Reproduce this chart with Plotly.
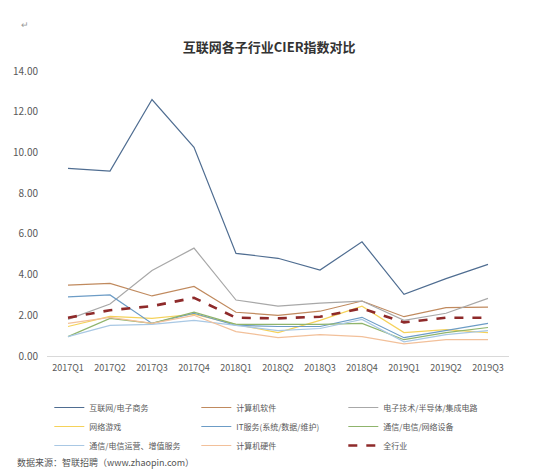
import plotly.graph_objects as go

quarters = ["2017Q1", "2017Q2", "2017Q3", "2017Q4", "2018Q1", "2018Q2",
            "2018Q3", "2018Q4", "2019Q1", "2019Q2", "2019Q3"]

internet = [9.22, 9.08, 12.60, 10.25, 5.04, 4.80, 4.22, 5.61, 3.03, 3.80, 4.50]
software = [3.48, 3.57, 2.95, 3.42, 2.15, 2.00, 2.20, 2.70, 1.93, 2.38, 2.40]
semicon = [1.80, 2.55, 4.20, 5.30, 2.75, 2.45, 2.60, 2.70, 1.75, 2.10, 2.83]
games = [1.45, 1.95, 1.85, 2.05, 1.55, 1.15, 1.75, 2.45, 1.15, 1.30, 1.15]
itserv = [2.90, 3.00, 1.60, 2.10, 1.50, 1.45, 1.45, 1.90, 0.90, 1.25, 1.60]
telecom_eq = [0.95, 1.85, 1.60, 2.15, 1.55, 1.55, 1.55, 1.60, 0.80, 1.15, 1.40]
telecom_op = [0.95, 1.50, 1.55, 1.75, 1.50, 1.25, 1.35, 1.80, 0.70, 1.05, 1.25]
hardware = [1.60, 1.90, 1.60, 2.00, 1.20, 0.90, 1.05, 0.95, 0.60, 0.80, 0.80]
all_ind = [1.88, 2.25, 2.45, 2.86, 1.88, 1.85, 1.93, 2.34, 1.65, 1.88, 1.88]

series = [
    ("互联网/电子商务", internet, "#4F6D91", 1.2, "solid"),
    ("计算机软件", software, "#C08A5E", 1.2, "solid"),
    ("电子技术/半导体/集成电路", semicon, "#A8A8A8", 1.2, "solid"),
    ("网络游戏", games, "#F5D25A", 1.2, "solid"),
    ("IT服务(系统/数据/维护)", itserv, "#6C9CC6", 1.2, "solid"),
    ("通信/电信/网络设备", telecom_eq, "#8FB46C", 1.2, "solid"),
    ("通信/电信运营、增值服务", telecom_op, "#A9C8E4", 1.2, "solid"),
    ("计算机硬件", hardware, "#F2C09A", 1.2, "solid"),
    ("全行业", all_ind, "#8E2A2A", 2.6, "dash"),
]

fig = go.Figure()
for name, vals, color, w, dash in series:
    fig.add_trace(go.Scatter(x=quarters, y=vals, name=name, mode="lines",
                             line=dict(color=color, width=w, dash=dash)))

W, H = 533, 463
font_family = "Noto Sans CJK SC, Microsoft YaHei, sans-serif"
fig.update_layout(
    width=W, height=H,
    margin=dict(l=39, r=32, t=63, b=115, autoexpand=False),
    paper_bgcolor="white", plot_bgcolor="white",
    font=dict(family=font_family, color="#595959", size=10),
    title=dict(text="<b>互联网各子行业CIER指数对比</b>", x=0.49, xanchor="center",
               y=1 - 39 / H, yanchor="middle",
               font=dict(size=13, color="#333333")),
    showlegend=True,
    legend=dict(orientation="h", x=0.005, xanchor="left",
                yref="container", y=1 - 385 / H, yanchor="top",
                entrywidth=102, entrywidthmode="pixels", tracegroupgap=0,
                font=dict(size=8, color="#595959"), itemwidth=30),
    xaxis=dict(range=[-0.5, 10.5], showgrid=False, showline=True, linecolor="#D9D9D9",
               linewidth=1, ticks="", ticklabelstandoff=3,
               tickfont=dict(size=9, color="#595959")),
    yaxis=dict(range=[0, 14], dtick=2, tickformat=".2f", showgrid=False,
               showline=False, zeroline=False, ticks="", ticklabelstandoff=8,
               tickfont=dict(size=10, color="#595959")),
)

fig.add_annotation(text="↵", xref="paper", yref="paper", x=-0.06, y=1 + 55 / 285,
                   showarrow=False, font=dict(size=9, color="#999999"))
fig.add_annotation(text="数据来源：智联招聘（www.zhaopin.com）", xref="paper", yref="paper",
                   x=-0.07, xanchor="left", y=-(463 - 348) / 285, yanchor="bottom",
                   showarrow=False, font=dict(size=9, color="#555555"))

fig.write_html("out.html")
